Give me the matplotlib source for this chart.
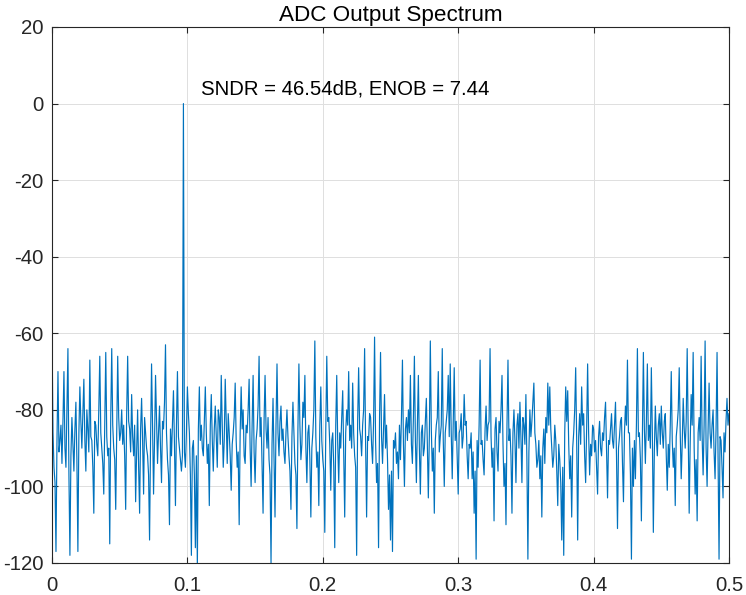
import numpy as np
import matplotlib
matplotlib.use("Agg")
import matplotlib.pyplot as plt

plt.rcParams["font.family"] = ["Liberation Sans", "DejaVu Sans"]
plt.rcParams["axes.unicode_minus"] = False

LINE = "#0072BD"
AXC = "#262626"
GRIDC = "#dfdfdf"

# ADC output spectrum (dBFS), 0 .. 0.5 fs
mag_db = [
    -60, -86, -95, -99, -117, -88, -70, -91, -88, -84, -94, -83, -70, -90, -95, -79, -64, -97, -118, -92,
    -82, -89, -96, -85, -78, -93, -117, -86, -74, -83, -90, -81, -72, -88, -96, -80, -85, -91, -67, -87,
    -88, -95, -107, -83, -84, -89, -92, -80, -66, -86, -90, -94, -102, -84, -65, -87, -92, -90, -115, -82,
    -64, -84, -90, -93, -106, -85, -66, -82, -88, -86, -80, -89, -84, -92, -106, -81, -66, -83, -85, -91,
    -76, -87, -92, -84, -104, -91, -80, -95, -107, -85, -77, -88, -102, -82, -86, -90, -92, -97, -114, -88,
    -68, -84, -102, -88, -71, -82, -94, -86, -79, -90, -99, -83, -85, -78, -63, -86, -93, -97, -110, -85,
    -92, -83, -75, -89, -105, -84, -70, -87, -90, -93, -96, -92, 0.0, -91, -95, -86, -74, -81, -86, -97,
    -118, -90, -88, -97, -116, -92, -121, -85, -74, -88, -84, -90, -92, -83, -74, -86, -94, -89, -105, -84,
    -76, -88, -96, -85, -79, -87, -95, -80, -82, -89, -71, -84, -95, -88, -72, -83, -94, -81, -86, -92,
    -101, -89, -86, -82, -73, -88, -95, -91, -110, -86, -74, -85, -80, -92, -94, -84, -86, -80, -72, -90,
    -100, -84, -71, -91, -99, -88, -85, -79, -66, -87, -82, -94, -107, -83, -71, -85, -90, -82, -93, -97,
    -120, -89, -77, -93, -108, -84, -68, -86, -92, -83, -79, -88, -85, -91, -94, -86, -80, -87, -92, -96,
    -106, -87, -78, -86, -94, -97, -111, -85, -68, -84, -93, -89, -78, -82, -71, -90, -99, -86, -84, -93,
    -108, -90, -86, -80, -62, -87, -95, -91, -105, -84, -74, -88, -93, -96, -112, -85, -66, -83, -82, -89,
    -101, -88, -86, -95, -116, -84, -71, -89, -99, -86, -90, -82, -75, -91, -108, -86, -80, -84, -70, -88,
    -84, -90, -73, -86, -92, -95, -118, -83, -69, -85, -87, -92, -84, -80, -64, -89, -108, -87, -88, -81,
    -82, -89, -94, -83, -61, -88, -99, -94, -116, -82, -65, -87, -94, -85, -76, -90, -84, -93, -106, -97,
    -114, -96, -117, -88, -90, -86, -94, -91, -98, -84, -93, -82, -67, -89, -100, -85, -82, -88, -80, -86,
    -71, -89, -94, -82, -66, -88, -99, -84, -71, -90, -102, -86, -84, -92, -90, -83, -77, -89, -103, -87,
    -62, -85, -96, -90, -107, -88, -84, -82, -70, -91, -87, -84, -64, -88, -100, -86, -83, -80, -71, -87,
    -68, -86, -98, -84, -69, -88, -83, -93, -102, -86, -85, -81, -90, -87, -76, -84, -83, -92, -98, -89,
    -90, -86, -98, -91, -107, -96, -119, -88, -95, -84, -67, -89, -88, -93, -97, -85, -79, -88, -84, -83,
    -64, -87, -95, -90, -109, -85, -82, -91, -96, -83, -86, -80, -71, -89, -100, -94, -110, -84, -67, -88,
    -85, -92, -107, -86, -80, -88, -99, -84, -81, -90, -78, -87, -99, -82, -84, -89, -76, -93, -119, -91,
    -80, -87, -83, -78, -73, -86, -89, -95, -93, -88, -98, -92, -108, -90, -85, -94, -82, -86, -73, -84,
    -74, -85, -90, -95, -92, -84, -88, -96, -105, -89, -93, -99, -114, -95, -118, -86, -74, -83, -75, -89,
    -98, -92, -108, -90, -86, -80, -69, -88, -114, -87, -81, -89, -74, -84, -81, -92, -99, -85, -68, -86,
    -97, -89, -92, -84, -85, -91, -88, -95, -102, -87, -83, -90, -92, -86, -88, -82, -78, -90, -103, -88,
    -89, -85, -81, -88, -90, -84, -78, -92, -111, -90, -87, -83, -82, -94, -104, -86, -79, -84, -67, -86,
    -86, -97, -119, -90, -100, -88, -98, -84, -64, -87, -86, -93, -109, -86, -65, -85, -94, -83, -68, -88,
    -84, -90, -69, -86, -112, -91, -79, -87, -92, -84, -81, -89, -79, -86, -90, -83, -81, -92, -101, -89,
    -95, -84, -70, -88, -95, -90, -105, -87, -84, -80, -69, -86, -98, -89, -77, -85, -90, -83, -64, -86,
    -107, -89, -76, -84, -65, -90, -102, -93, -109, -86, -82, -88, -66, -87, -97, -84, -62, -90, -100, -85,
    -73, -86, -90, -84, -80, -91, -98, -85, -65, -92, -119, -87, -88, -95, -103, -86, -91, -83, -77, -84, -81,
]
freq = np.linspace(0, 0.5, len(mag_db))

sndr_db = 46.54
enob = 7.44
x_ticks = [0, 0.1, 0.2, 0.3, 0.4, 0.5]
x_labels = ["0", "0.1", "0.2", "0.3", "0.4", "0.5"]
y_ticks = [-120, -100, -80, -60, -40, -20, 0, 20]

fig = plt.figure(figsize=(7.46, 5.95), dpi=100)
fig.patch.set_facecolor("white")
ax = fig.add_axes([52 / 746, 1 - 563 / 595, 677 / 746, 536 / 595])

ax.plot(freq, mag_db, color=LINE, lw=0.85)

ax.set_xlim(0, 0.5)
ax.set_ylim(-120, 20)
ax.set_xticks(x_ticks)
ax.set_xticklabels(x_labels)
ax.set_yticks(y_ticks)
ax.set_yticklabels([str(v) for v in y_ticks])

ax.grid(True, color=GRIDC, lw=0.7)
ax.set_axisbelow(True)
for s in ax.spines.values():
    s.set_edgecolor(AXC)
    s.set_linewidth(0.8)
ax.tick_params(direction="in", length=4, width=0.8, colors=AXC,
               labelsize=14.7, top=True, right=True)
ax.tick_params(axis="x", pad=9.5)
ax.tick_params(axis="y", pad=6.3)

ax.set_title("ADC Output Spectrum", fontsize=16.2, color="black", pad=4.2)
ax.text(0.11, 2.24, f"SNDR = {sndr_db:.2f}dB, ENOB = {enob:.2f}",
        fontsize=14.7, color="black", va="baseline", ha="left")

fig.savefig("out.png", dpi=100, facecolor="white")
